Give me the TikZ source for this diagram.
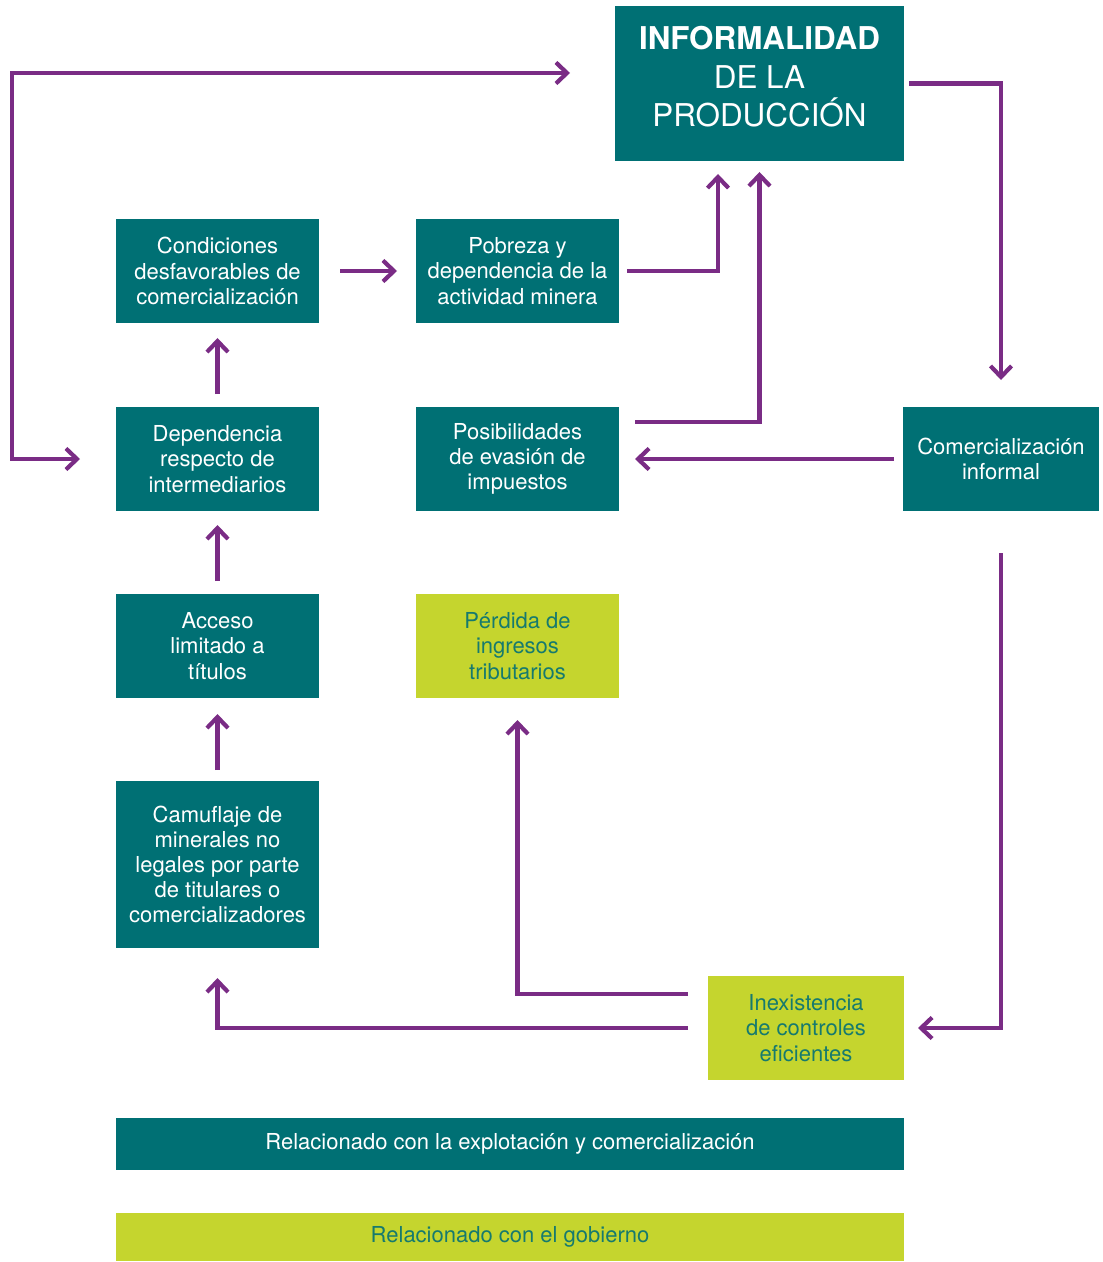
\documentclass[tikz,border=0pt]{standalone}
\usepackage{fontspec}
\setmainfont{TeX Gyre Heros}
\usetikzlibrary{arrows.meta}
\definecolor{petroleo}{RGB}{0,112,116}
\definecolor{lima}{RGB}{197,213,46}
\definecolor{morado}{RGB}{122,44,133}
\definecolor{textolima}{RGB}{22,122,110}
\tikzset{>={Straight Barb[length=5.5pt,width=10.5pt]}}
\tikzset{
  caja/.style={fill=petroleo, text=white, align=center, inner sep=0pt, outer sep=0pt,
    minimum width=101.5pt, minimum height=52pt, font=\fontsize{11}{12.6}\selectfont},
  cajalima/.style={caja, fill=lima, text=textolima},
  flecha/.style={draw=morado, line width=2.1pt, ->}
}

\begin{document}
\begin{tikzpicture}[x=0.5pt,y=-0.5pt]
\useasboundingbox (0,0) rectangle (1102,1262);
\node[caja, minimum width=144.5pt, minimum height=77.5pt] (inf) at (759.5,83.5) {};
\node[text=white, align=center, font=\fontsize{15.7}{19.2}\selectfont] (inftexto) at (759.5,77)
  {\textbf{INFORMALIDAD}\\DE LA\\PRODUCCIÓN};
\node[caja] (cond) at (217.5,271) {Condiciones\\desfavorables de\\comercialización};
\node[caja] (pob) at (517.5,271) {Pobreza y\\dependencia de la\\actividad minera};
\node[caja] (dep) at (217.5,459) {Dependencia\\respecto de\\intermediarios};
\node[caja] (pos) at (517.5,459) {Posibilidades\\de evasión de\\impuestos};
\node[caja, minimum width=98pt] (com) at (1001,459) {Comercialización\\informal};
\node[caja] (acc) at (217.5,646) {Acceso\\limitado a\\títulos};
\node[cajalima] (per) at (517.5,646) {Pérdida de\\ingresos\\tributarios};
\node[caja, minimum height=83.5pt] (cam) at (217.5,864.5)
  {Camuflaje de\\minerales no\\legales por parte\\de titulares o\\comercializadores};
\node[cajalima, minimum width=98pt] (inex) at (806,1028) {Inexistencia\\de controles\\eficientes};
\node[caja, minimum width=394pt, minimum height=26pt] (ley1) at (510,1144)
  {Relacionado con la explotación y comercialización};
\node[cajalima, minimum width=394pt, minimum height=24pt] (ley2) at (510,1237)
  {Relacionado con el gobierno};
\coordinate (izq) at (12,0);

\draw[flecha, <->, shorten <=18pt, shorten >=22.5pt] (dep.west) -- (izq |- dep.west) |- ([yshift=5.25pt]inf.west);
\draw[flecha, shorten <=10.5pt, shorten >=9.5pt] (cond) -- (pob);
\draw[flecha, shorten <=6.5pt, shorten >=7.5pt] (dep) -- (cond);
\draw[flecha, shorten <=6.5pt, shorten >=7pt] (acc) -- (dep);
\draw[flecha, shorten <=5.5pt, shorten >=8pt] (cam) -- (acc);
\draw[flecha, shorten <=4pt, shorten >=6.5pt] (pob.east) -| ([xshift=-20.75pt]inf.south);
\draw[flecha, shorten <=8pt, shorten >=5.5pt] ([yshift=18.5pt]pos.east) -| (inf.south);
\draw[flecha, shorten <=2.5pt, shorten >=13.5pt] (inf.east) -| (com.north);
\draw[flecha, shorten <=4.5pt, shorten >=8pt] (com) -- (pos);
\draw[flecha, shorten <=21pt, shorten >=7pt] (com.south) |- (inex.east);
\draw[flecha, shorten <=10pt, shorten >=11pt] ([yshift=17pt]inex.west) -| (per.south);
\draw[flecha, shorten <=10pt, shorten >=15pt] (inex.west) -| (cam.south);
\end{tikzpicture}
\end{document}
